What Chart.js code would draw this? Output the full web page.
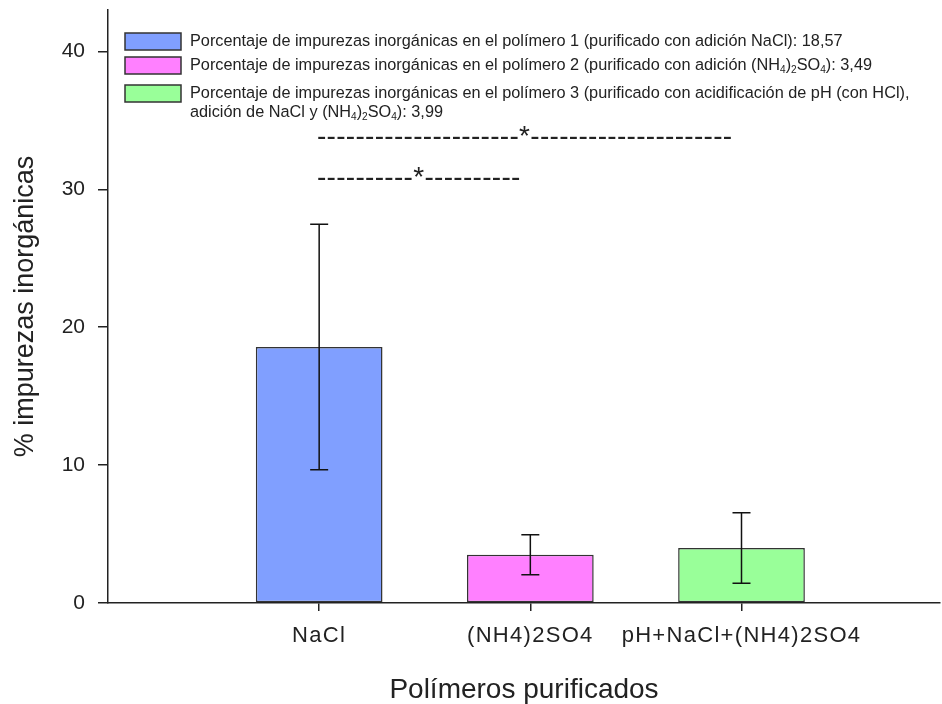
<!DOCTYPE html>
<html>
<head>
<meta charset="utf-8">
<script src="https://cdn.jsdelivr.net/npm/chart.js@4.4.1/dist/chart.umd.min.js"></script>
<style>
  html, body { margin: 0; padding: 0; background: #fff; }
  #wrap { width: 942px; height: 704px; position: relative; }
</style>
</head>
<body>
<div id="wrap"><canvas id="chart" width="942" height="704"></canvas></div>
<script>
// Purified polymers and their inorganic impurity content (mean ± SD)
const categories = ['NaCl', '(NH4)2SO4', 'pH+NaCl+(NH4)2SO4'];
const positions = [1, 2, 3];
const means = [18.57, 3.49, 3.99];
const sds = [8.9, 1.45, 2.55];
const yTicks = [0, 10, 20, 30, 40];
const barColors = ['#809fff', '#ff80ff', '#99ff99'];

// Legend entries; "_x" marks a subscript character
const legendLines = [
  ['Porcentaje de impurezas inorgánicas en el polímero 1 (purificado con adición NaCl): 18,57'],
  ['Porcentaje de impurezas inorgánicas en el polímero 2 (purificado con adición (NH_4)_2SO_4): 3,49'],
  ['Porcentaje de impurezas inorgánicas en el polímero 3 (purificado con acidificación de pH (con HCl),',
   'adición de NaCl y (NH_4)_2SO_4): 3,99']
];

// Significance markers between groups
const sigLabels = ['---------------------*---------------------', '----------*----------'];

const textFont = '"Liberation Sans", Arial, sans-serif';
const ink = '#222';

function drawRich(ctx, str, x, y, size) {
  let cx = x;
  let i = 0;
  while (i < str.length) {
    if (str[i] === '_' && i + 1 < str.length) {
      ctx.font = (size * 0.62) + 'px ' + textFont;
      const ch = str[i + 1];
      ctx.fillText(ch, cx, y + size * 0.3);
      cx += ctx.measureText(ch).width;
      i += 2;
    } else {
      let j = i;
      while (j < str.length && str[j] !== '_') j++;
      const seg = str.slice(i, j);
      ctx.font = size + 'px ' + textFont;
      ctx.fillText(seg, cx, y);
      cx += ctx.measureText(seg).width;
      i = j;
    }
  }
}

const errorBars = {
  id: 'errorBars',
  afterDatasetsDraw(chart) {
    const { ctx, scales: { x, y } } = chart;
    ctx.save();
    ctx.strokeStyle = '#111';
    ctx.lineWidth = 1.5;
    positions.forEach((p, i) => {
      const px = x.getPixelForValue(p);
      const top = y.getPixelForValue(means[i] + sds[i]);
      const bot = y.getPixelForValue(means[i] - sds[i]);
      ctx.beginPath();
      ctx.moveTo(px, top); ctx.lineTo(px, bot);
      ctx.moveTo(px - 9, top); ctx.lineTo(px + 9, top);
      ctx.moveTo(px - 9, bot); ctx.lineTo(px + 9, bot);
      ctx.stroke();
    });
    ctx.restore();
  }
};

const legendAndMarks = {
  id: 'legendAndMarks',
  afterDraw(chart) {
    const { ctx, chartArea } = chart;
    ctx.save();
    const boxX = chartArea.left + 17;
    const boxW = 56, boxH = 17;
    const rows = [33, 57, 85];
    ctx.textBaseline = 'middle';
    legendLines.forEach((lines, i) => {
      const top = rows[i];
      ctx.fillStyle = barColors[i];
      ctx.fillRect(boxX, top, boxW, boxH);
      ctx.strokeStyle = '#333';
      ctx.lineWidth = 1.5;
      ctx.strokeRect(boxX, top, boxW, boxH);
      ctx.fillStyle = ink;
      lines.forEach((ln, k) => {
        drawRich(ctx, ln, boxX + boxW + 9, top + boxH / 2 + k * 19, 16.3);
      });
    });
    // significance strings
    ctx.font = '28px ' + textFont;
    ctx.letterSpacing = '0.3px';
    ctx.textBaseline = 'alphabetic';
    ctx.fillStyle = ink;
    const sigBase = [145, 186];
    sigLabels.forEach((s, i) => {
      ctx.fillText(s, 317, sigBase[i]);
    });
    ctx.restore();
  }
};

const spacedXLabels = {
  id: 'spacedXLabels',
  beforeDraw(chart) {
    const sc = chart.scales.x;
    if (sc._spaced) return;
    const orig = sc.drawLabels;
    sc.drawLabels = function (area) {
      const c = this.ctx;
      c.save();
      c.letterSpacing = '1.3px';
      orig.call(this, area);
      c.restore();
    };
    sc._spaced = true;
  }
};

new Chart(document.getElementById('chart'), {
  type: 'bar',
  data: {
    datasets: [{
      data: positions.map((p, i) => ({ x: p, y: means[i] })),
      backgroundColor: barColors,
      borderColor: '#333',
      borderWidth: 1.5,
      borderSkipped: false,
      barPercentage: 0.6,
      categoryPercentage: 1.0
    }]
  },
  options: {
    responsive: false,
    animation: false,
    layout: { padding: { top: 10, right: 2, left: 0, bottom: 0 } },
    plugins: { legend: { display: false }, tooltip: { enabled: false } },
    scales: {
      x: {
        type: 'linear',
        min: 0,
        max: 3.94,
        offset: false,
        afterBuildTicks(scale) { scale.ticks = positions.map(v => ({ value: v })); },
        afterFit(scale) { scale.height = 101; scale.paddingLeft = 0; scale.paddingRight = 0; },
        ticks: {
          callback: v => categories[positions.indexOf(v)],
          color: ink,
          font: { family: textFont, size: 22, lineHeight: 1 },
          padding: 14,
          maxRotation: 0,
          autoSkip: false
        },
        grid: { offset: false, drawOnChartArea: false, drawTicks: true, tickLength: 8, color: ink, lineWidth: 1.5 },
        border: { display: true, color: ink, width: 1.5 },
        title: {
          display: true,
          text: 'Polímeros purificados',
          color: ink,
          font: { family: textFont, size: 28, lineHeight: 1 },
          padding: { top: 0, bottom: 0 }
        }
      },
      y: {
        min: 0,
        max: 43,
        afterBuildTicks(scale) { scale.ticks = yTicks.map(v => ({ value: v })); },
        afterFit(scale) { scale.width = 108; scale.paddingTop = 0; scale.paddingBottom = 0; },
        ticks: {
          color: ink,
          font: { family: textFont, size: 21 },
          padding: 13
        },
        grid: { drawOnChartArea: false, drawTicks: true, tickLength: 10, color: ink, lineWidth: 1.5 },
        border: { display: true, color: ink, width: 1.5 },
        title: {
          display: true,
          text: '% impurezas inorgánicas',
          color: ink,
          font: { family: textFont, size: 27, lineHeight: 1 },
          padding: { top: 12, bottom: 0 }
        }
      }
    }
  },
  plugins: [errorBars, legendAndMarks, spacedXLabels]
});
</script>
</body>
</html>
